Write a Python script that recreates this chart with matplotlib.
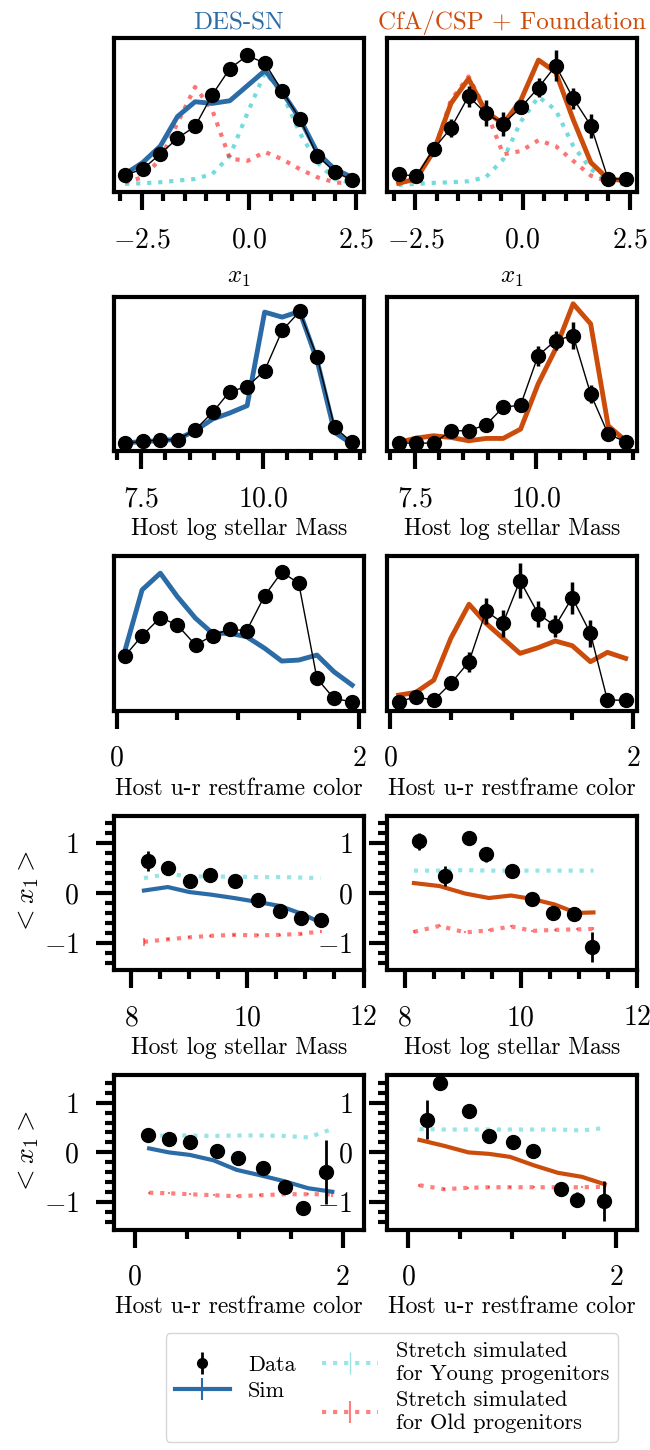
import matplotlib.pyplot as plt
from matplotlib.ticker import MultipleLocator
import numpy as np

plt.rcParams["font.family"] = ["cmr10"]
plt.rcParams["mathtext.fontset"] = "cm"
plt.rcParams["axes.formatter.use_mathtext"] = True
plt.rcParams["axes.linewidth"] = 3

# ---- histogram bins (rows 1-3) ----
x1_bins = [-2.89, -2.48, -2.07, -1.67, -1.26, -0.86, -0.45,
           -0.04, 0.37, 0.77, 1.18, 1.59, 1.99, 2.40]
mass_bins = [7.17, 7.53, 7.89, 8.25, 8.61, 8.97, 9.32,
             9.68, 10.04, 10.40, 10.76, 11.12, 11.48, 11.84]
color_bins = [0.07, 0.21, 0.36, 0.50, 0.65, 0.79, 0.93,
              1.07, 1.22, 1.36, 1.50, 1.65, 1.79, 1.94]

# DES-SN stretch distribution
des_x1_data = [0.08, 0.125, 0.24, 0.36, 0.45, 0.69, 0.89,
               0.99, 0.93, 0.72, 0.51, 0.225, 0.105, 0.04]
des_x1_sim = [0.0875, 0.175, 0.30, 0.525, 0.6375, 0.625, 0.645,
              0.76, 0.875, 0.71, 0.51, 0.25, 0.125, 0.0625]
des_x1_young = [0.0125, 0.0175, 0.025, 0.0375, 0.05, 0.0875, 0.225,
                0.55, 0.8625, 0.70, 0.40, 0.175, 0.05, 0.02]
des_x1_old = [0.025, 0.0625, 0.2, 0.475, 0.75, 0.575, 0.205,
              0.1875, 0.255, 0.2, 0.125, 0.0625, 0.025, 0.0125]

# CfA/CSP + Foundation stretch distribution
low_x1_data = [0.0875, 0.07, 0.28, 0.4375, 0.68, 0.55, 0.47,
               0.595, 0.745, 0.9125, 0.6625, 0.455, 0.05, 0.05]
low_x1_err = [0.03, 0.03, 0.045, 0.07, 0.08, 0.1, 0.09,
              0.05, 0.07, 0.12, 0.08, 0.09, 0.02, 0.02]
low_x1_sim = [0.0175, 0.05, 0.2625, 0.625, 0.8125, 0.5625, 0.47,
              0.65, 0.955, 0.8625, 0.50, 0.175, 0.05, 0.0375]
low_x1_young = [0.005, 0.0125, 0.02, 0.025, 0.0325, 0.0625, 0.2,
                0.4875, 0.675, 0.575, 0.30, 0.125, 0.025, 0.0125]
low_x1_old = [0.0125, 0.055, 0.255, 0.65, 0.83, 0.575, 0.2375,
              0.2625, 0.345, 0.30, 0.1875, 0.075, 0.03, 0.0125]

# host mass distribution
des_mass_data = [0.0075, 0.02, 0.0325, 0.0325, 0.1075, 0.2375, 0.3925,
                 0.43, 0.55, 0.85, 0.9925, 0.65, 0.125, 0.0125]
des_mass_sim = [0.0075, 0.02, 0.025, 0.0375, 0.10, 0.1875, 0.2325,
                0.2875, 0.9875, 0.95, 0.9925, 0.625, 0.0875, 0.0]
low_mass_data = [0.0075, 0.0075, 0.0075, 0.1, 0.1, 0.145, 0.275,
                 0.2925, 0.6625, 0.775, 0.8125, 0.375, 0.075, 0.0175]
low_mass_err = [0.01, 0.01, 0.01, 0.03, 0.03, 0.03, 0.05,
                0.05, 0.075, 0.07, 0.1, 0.07, 0.03, 0.01]
low_mass_sim = [0.0125, 0.045, 0.0625, 0.05, 0.025, 0.0425, 0.0425,
                0.1125, 0.45, 0.7125, 1.05, 0.90, 0.1375, 0.025]

# host u-r colour distribution
des_color_data = [0.3575, 0.5075, 0.6425, 0.5875, 0.4375, 0.5075, 0.5575,
                  0.5425, 0.8075, 0.9825, 0.90, 0.1875, 0.0375, 0.0125]
des_color_sim = [0.40, 0.85, 0.975, 0.80, 0.6375, 0.525, 0.525,
                 0.50, 0.4125, 0.3175, 0.325, 0.3625, 0.2375, 0.1375]
low_color_data = [0.0125, 0.05, 0.025, 0.15, 0.3125, 0.6925, 0.60,
                  0.92, 0.67, 0.58, 0.7925, 0.525, 0.025, 0.025]
low_color_err = [0.01, 0.02, 0.02, 0.04, 0.075, 0.1, 0.1,
                 0.13, 0.1, 0.08, 0.12, 0.1, 0.01, 0.01]
low_color_sim = [0.0625, 0.0825, 0.175, 0.4875, 0.7425, 0.60, 0.4875,
                 0.375, 0.4175, 0.4675, 0.4325, 0.3125, 0.3825, 0.3375]

# ---- mean stretch vs host mass (row 4) ----
des_mx = [8.29, 8.63, 9.02, 9.36, 9.78, 10.18, 10.56, 10.92, 11.26]
des_mx_mean = [0.65, 0.51, 0.25, 0.36, 0.25, -0.15, -0.36, -0.51, -0.55]
des_mx_err = [0.2, 0.05, 0.05, 0.05, 0.05, 0.05, 0.05, 0.05, 0.05]
des_mx_sim_x = [8.22, 8.63, 9.00, 9.36, 9.77, 10.18, 10.56, 10.92, 11.26]
des_mx_sim = [0.05, 0.12, 0.02, -0.03, -0.10, -0.18, -0.26, -0.41, -0.59]
des_mx_young = [0.30, 0.38, 0.34, 0.33, 0.33, 0.32, 0.32, 0.31, 0.30]
des_mx_old = [-0.98, -0.93, -0.89, -0.86, -0.84, -0.85, -0.84, -0.82, -0.77]
des_mx_old_err = [0.08, 0.02, 0.02, 0.02, 0.02, 0.02, 0.02, 0.02, 0.03]

low_mx = [8.25, 8.70, 9.10, 9.40, 9.84, 10.19, 10.56, 10.91, 11.22]
low_mx_mean = [1.04, 0.34, 1.10, 0.78, 0.45, -0.11, -0.41, -0.43, -1.09]
low_mx_err = [0.17, 0.2, 0.05, 0.15, 0.06, 0.06, 0.06, 0.08, 0.3]
low_mx_sim_x = [8.16, 8.60, 9.04, 9.45, 9.83, 10.20, 10.58, 10.96, 11.25]
low_mx_sim = [0.20, 0.14, -0.01, -0.10, -0.05, -0.12, -0.23, -0.40, -0.39]
low_mx_young = [0.45, 0.45, 0.46, 0.45, 0.45, 0.45, 0.45, 0.45, 0.45]
low_mx_old = [-0.78, -0.66, -0.79, -0.75, -0.67, -0.76, -0.74, -0.73, -0.72]
low_mx_old_err = [0.03, 0.02, 0.02, 0.02, 0.02, 0.02, 0.02, 0.02, 0.03]

# ---- mean stretch vs host colour (row 5) ----
des_cx = [0.13, 0.33, 0.53, 0.79, 0.99, 1.23, 1.45, 1.62, 1.84]
des_cx_mean = [0.34, 0.26, 0.20, 0.03, -0.12, -0.32, -0.70, -1.12, -0.39]
des_cx_err = [0.05, 0.05, 0.05, 0.05, 0.05, 0.05, 0.06, 0.06, 0.64]
des_cx_sim_x = [0.14, 0.33, 0.53, 0.76, 0.98, 1.21, 1.44, 1.67, 1.90]
des_cx_sim = [0.08, 0.0, -0.05, -0.16, -0.35, -0.46, -0.58, -0.72, -0.79]
des_cx_young = [0.33, 0.34, 0.34, 0.33, 0.34, 0.34, 0.33, 0.30, 0.47]
des_cx_old = [-0.81, -0.82, -0.84, -0.86, -0.88, -0.86, -0.84, -0.84, -0.84]
des_cx_old_err = [0.02, 0.02, 0.02, 0.02, 0.02, 0.02, 0.02, 0.02, 0.06]

low_cx = [0.18, 0.31, 0.59, 0.78, 1.01, 1.20, 1.47, 1.62, 1.88]
low_cx_mean = [0.66, 1.39, 0.84, 0.32, 0.20, 0.03, -0.74, -0.95, -0.97]
low_cx_err = [0.4, 0.05, 0.05, 0.05, 0.05, 0.1, 0.05, 0.15, 0.4]
low_cx_sim_x = [0.11, 0.35, 0.58, 0.78, 0.98, 1.21, 1.44, 1.67, 1.89]
low_cx_sim = [0.25, 0.13, 0.0, -0.03, -0.09, -0.26, -0.41, -0.49, -0.64]
low_cx_young = [0.47, 0.46, 0.46, 0.46, 0.46, 0.46, 0.46, 0.44, 0.49]
low_cx_old = [-0.66, -0.74, -0.71, -0.70, -0.70, -0.70, -0.70, -0.70, -0.69]
low_cx_old_err = [0.03, 0.02, 0.02, 0.02, 0.02, 0.02, 0.02, 0.02, 0.03]

inputs = {
    "color des": "#2b6ca6",
    "color low": "#cc4c0b",
    "color young": "c",
    "color old": "red",
    "tick size": 20,
    "label size": 17,
}


def zeros_like(values):
    return [0.0 for v in values]


def style_axis(ax, major, minor, hist=True):
    ax.xaxis.set_major_locator(MultipleLocator(major))
    ax.xaxis.set_minor_locator(MultipleLocator(minor))
    ax.tick_params(which="major", length=13, width=3, pad=12,
                   labelsize=inputs["tick size"])
    ax.tick_params(which="minor", length=6.5, width=3)
    if hist:
        ax.set_yticks([])
    else:
        ax.yaxis.set_major_locator(MultipleLocator(1))
        ax.yaxis.set_minor_locator(MultipleLocator(0.2))
        ax.set_ylim(-1.55, 1.55)


def plot_hist(ax, x, data, err, sim, color, young=None, old=None):
    ax.errorbar(x, data, yerr=err, fmt="o-", color="k", lw=1,
                ms=10, elinewidth=2.5, zorder=5)
    ax.plot(x, sim, color=color, lw=3.5, zorder=4)
    if young is not None:
        ax.plot(x, young, ":", color=inputs["color young"],
                alpha=0.55, lw=3)
        ax.plot(x, old, ":", color=inputs["color old"],
                alpha=0.55, lw=3)


def plot_mean(ax, x, mean, err, sim_x, sim, young, old, old_err, color):
    h_young = ax.errorbar(sim_x, young, yerr=zeros_like(young), fmt=":",
                          color=inputs["color young"], alpha=0.4, lw=3,
                          elinewidth=1)
    h_old = ax.errorbar(sim_x, old, yerr=old_err, fmt=":",
                        color=inputs["color old"], alpha=0.5, lw=3,
                        elinewidth=1.5)
    h_sim = ax.errorbar(sim_x, sim, yerr=zeros_like(sim), fmt="-",
                        color=color, lw=3, elinewidth=1.5)
    h_data = ax.errorbar(x, mean, yerr=err, fmt="o", color="k",
                         ms=10, elinewidth=2, zorder=5)
    return h_data, h_sim, h_young, h_old


fig, axes = plt.subplots(5, 2, figsize=(6.5, 14.5))
plt.subplots_adjust(top=0.974,
                    bottom=0.152,
                    left=0.175,
                    right=0.98,
                    hspace=0.68,
                    wspace=0.095)

# row 1 : x1
plot_hist(axes[0, 0], x1_bins, des_x1_data, zeros_like(des_x1_data),
          des_x1_sim, inputs["color des"], des_x1_young, des_x1_old)
plot_hist(axes[0, 1], x1_bins, low_x1_data, low_x1_err, low_x1_sim,
          inputs["color low"], low_x1_young, low_x1_old)
for ax in axes[0]:
    style_axis(ax, 2.5, 0.5)
    ax.set_ylim(-0.05, 1.125)
    ax.set_xlabel(r"$x_1$", fontsize=18, labelpad=10)
axes[0, 0].set_title("DES-SN", color=inputs["color des"], fontsize=18)
axes[0, 1].set_title("CfA/CSP + Foundation", color=inputs["color low"],
                     fontsize=18)

# row 2 : host mass
plot_hist(axes[1, 0], mass_bins, des_mass_data, zeros_like(des_mass_data),
          des_mass_sim, inputs["color des"])
plot_hist(axes[1, 1], mass_bins, low_mass_data, low_mass_err,
          low_mass_sim, inputs["color low"])
for ax in axes[1]:
    style_axis(ax, 2.5, 0.5)
    ax.set_ylim(-0.055, 1.1)
    ax.set_xlabel("Host log stellar Mass", fontsize=inputs["label size"])

# row 3 : host colour
plot_hist(axes[2, 0], color_bins, des_color_data, zeros_like(des_color_data),
          des_color_sim, inputs["color des"])
plot_hist(axes[2, 1], color_bins, low_color_data, low_color_err,
          low_color_sim, inputs["color low"])
for ax in axes[2]:
    style_axis(ax, 2, 0.5)
    ax.set_ylim(-0.055, 1.1)
    ax.set_xlabel("Host u-r restframe color", fontsize=inputs["label size"])

# row 4 : mean x1 vs mass
handles = plot_mean(axes[3, 0], des_mx, des_mx_mean, des_mx_err,
                    des_mx_sim_x, des_mx_sim, des_mx_young, des_mx_old,
                    des_mx_old_err, inputs["color des"])
plot_mean(axes[3, 1], low_mx, low_mx_mean, low_mx_err,
          low_mx_sim_x, low_mx_sim, low_mx_young, low_mx_old,
          low_mx_old_err, inputs["color low"])
for ax in axes[3]:
    style_axis(ax, 2, 0.5, hist=False)
    ax.set_xlim(7.7, 12)
    ax.set_xlabel("Host log stellar Mass", fontsize=inputs["label size"])

# row 5 : mean x1 vs colour
plot_mean(axes[4, 0], des_cx, des_cx_mean, des_cx_err,
          des_cx_sim_x, des_cx_sim, des_cx_young, des_cx_old,
          des_cx_old_err, inputs["color des"])
plot_mean(axes[4, 1], low_cx, low_cx_mean, low_cx_err,
          low_cx_sim_x, low_cx_sim, low_cx_young, low_cx_old,
          low_cx_old_err, inputs["color low"])
for ax in axes[4]:
    style_axis(ax, 2, 0.5, hist=False)
    ax.set_xlim(-0.2, 2.2)
    ax.set_xlabel("Host u-r restframe color", fontsize=inputs["label size"])

for ax in axes[3:, 0]:
    ax.set_ylabel(r"$< x_1 >$", fontsize=20, labelpad=2)

fig.legend(handles,
           ["Data", "Sim", "Stretch simulated\nfor Young progenitors",
            "Stretch simulated\nfor Old progenitors"],
           ncol=2,
           loc="lower left",
           bbox_to_anchor=(0.238, -0.002),
           fontsize=16,
           handlelength=2.5,
           markerscale=0.7,
           edgecolor="#cccccc",
           columnspacing=1.2,
           labelspacing=0.3)
# <---------saving---------->
plt.savefig("out.png", dpi=100)
